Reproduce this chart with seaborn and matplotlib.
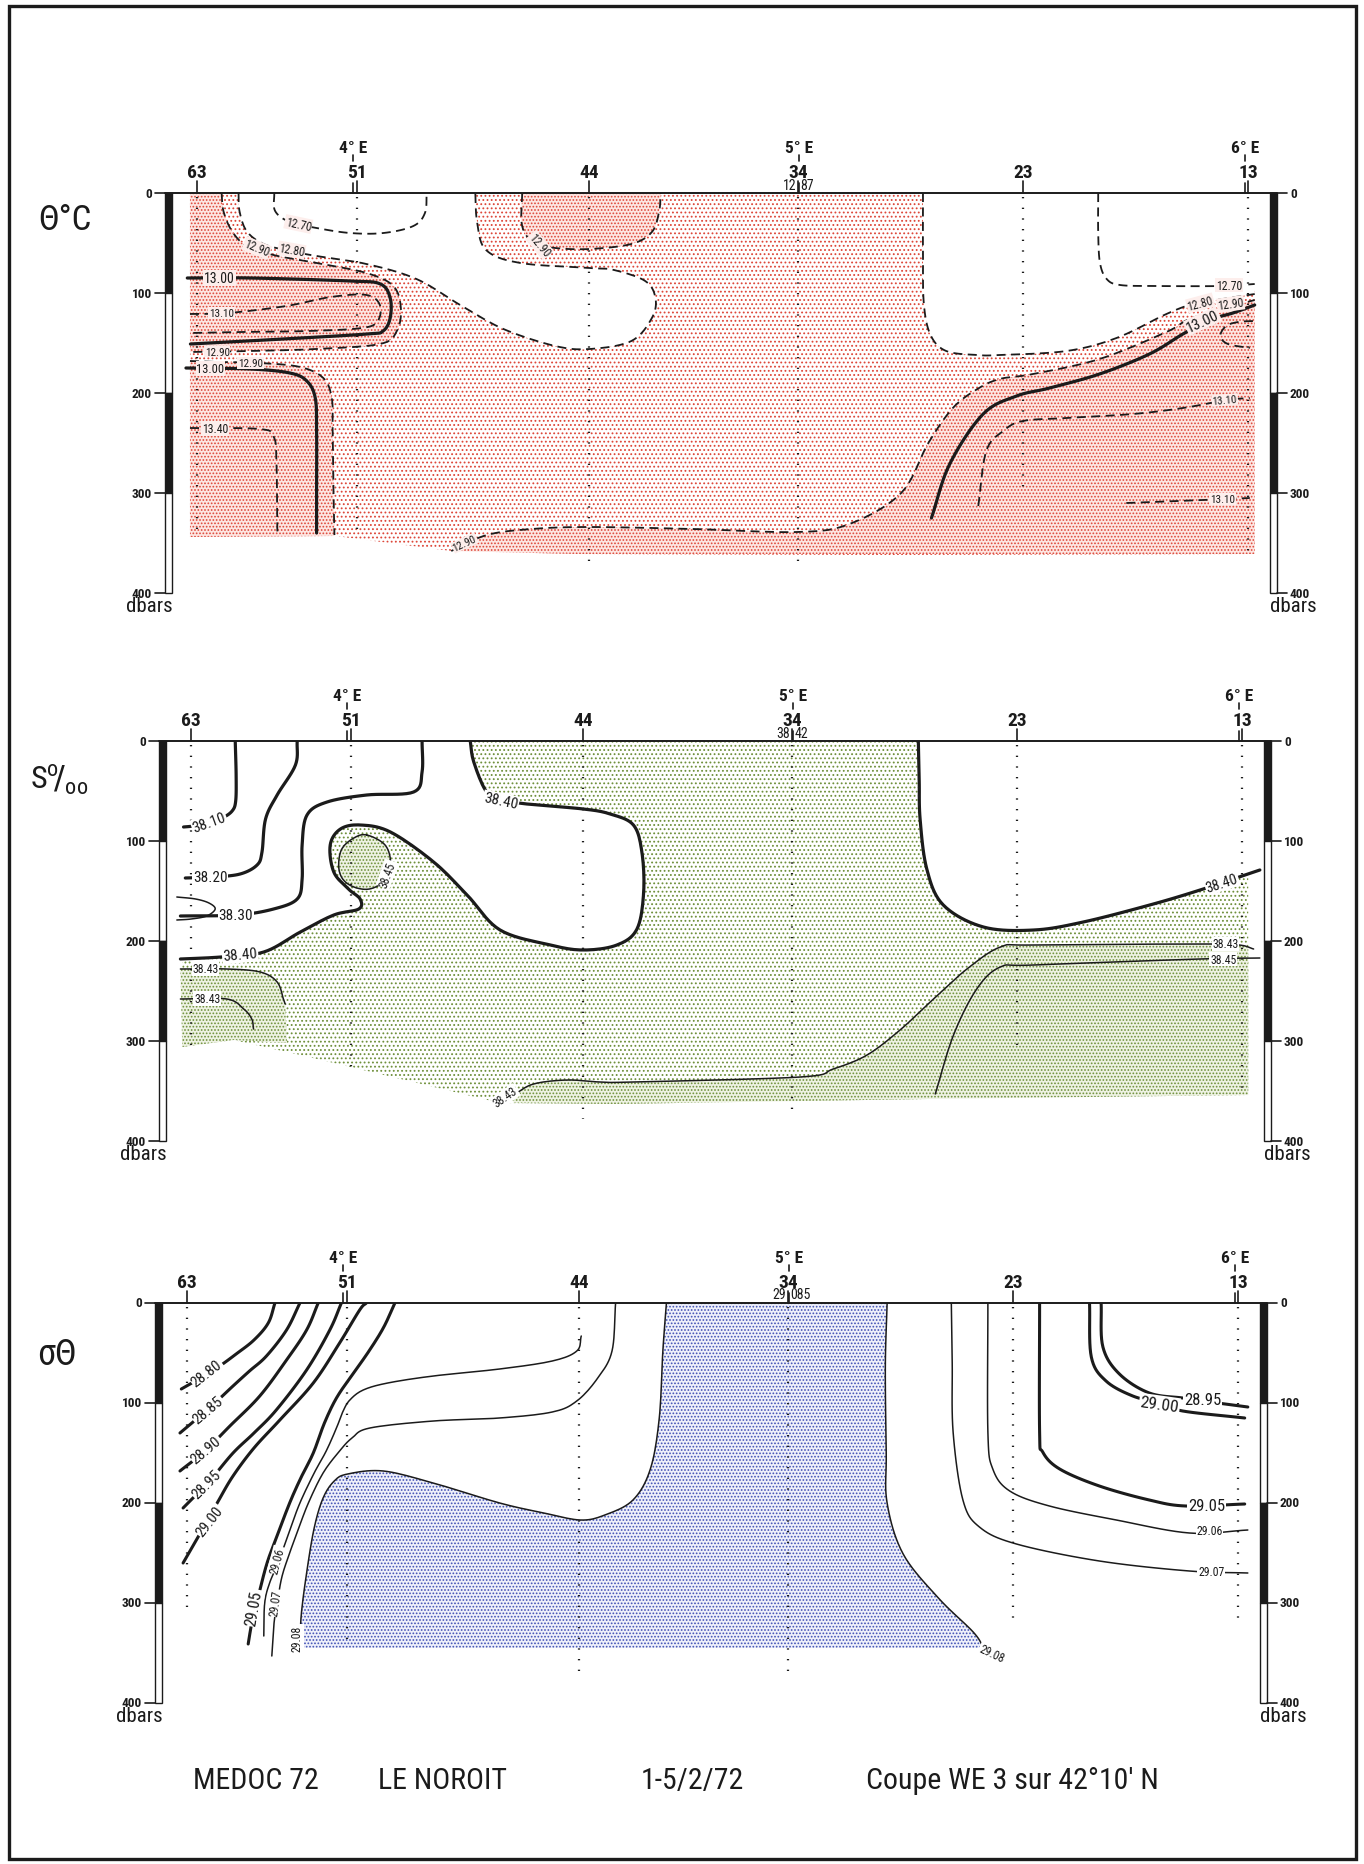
import numpy as np
import matplotlib
matplotlib.use("Agg")
import matplotlib.pyplot as plt
import seaborn as sns
from matplotlib import font_manager
from matplotlib.patches import Rectangle

# ------------------------------------------------------------------ data
STATIONS = ["63", "51", "44", "34", "23", "13"]
STATION_LON = [3.650, 4.009, 4.529, 4.998, 5.502, 6.007]
LON_TICKS = [4.0, 5.0, 6.0]
LON_LABELS = ["4° E", "5° E", "6° E"]
DEPTH_TICKS = [0, 100, 200, 300, 400]
BOTTOM_T = [345, 345, 374, 372, 302, 360]
BOTTOM_S = [305, 330, 378, 376, 305, 355]
BOTTOM_D = [305, 343, 373, 375, 316, 316]
SURF_34_T = ("12", "87")
SURF_34_S = ("38", "42")
SURF_34_D = ("29", "085")

# potential temperature isotherms (lon, dbar)
T_DOMAIN = [(3.634, 0), (6.022, 0), (6.022, 361), (5.2, 362), (4.5, 361), (4.22, 358), (3.96, 343), (3.634, 344)]
T1270_L = [(3.823, 0), (3.825, 18), (3.858, 29), (3.918, 35), (3.993, 40), (4.068, 40), (4.135, 33), (4.161, 20), (4.165, 0)]
T1270_R = [(5.671, 0), (5.671, 40), (5.675, 70), (5.69, 86), (5.72, 92), (5.80, 93), (5.95, 93), (6.022, 91)]
T1280_L = [(3.743, 0), (3.745, 18), (3.761, 38), (3.799, 51), (3.858, 58), (3.918, 63), (4.03, 71), (4.142, 86), (4.24, 112),
           (4.337, 136), (4.453, 153), (4.531, 156), (4.624, 148), (4.670, 125), (4.678, 105), (4.655, 88), (4.585, 77),
           (4.531, 75), (4.375, 70), (4.298, 57), (4.278, 29), (4.274, 0)]
T1280_R = [(5.278, 0), (5.278, 60), (5.28, 111), (5.295, 142), (5.33, 158), (5.40, 162), (5.45, 162), (5.60, 158),
           (5.712, 145), (5.824, 121), (5.884, 111), (5.95, 106), (6.022, 101)]
T1290_U = [(3.705, 0), (3.709, 18), (3.728, 38), (3.761, 53), (3.821, 62), (3.918, 70), (4.03, 80), (4.09, 93), (4.107, 115),
           (4.098, 138), (4.06, 151), (3.918, 156), (3.769, 158), (3.634, 159)]
T1290_44 = [(4.379, 0), (4.379, 33), (4.406, 50), (4.453, 55), (4.531, 56), (4.624, 51), (4.67, 39), (4.686, 19), (4.69, 0)]
T1290_BL = [(3.634, 168), (3.70, 169), (3.791, 170), (3.881, 174), (3.933, 185), (3.952, 205), (3.954, 238), (3.956, 300), (3.958, 342)]
T1290_B = [(4.22, 358), (4.30, 342), (4.40, 336), (4.531, 334), (4.763, 336), (4.996, 339), (5.113, 331), (5.229, 300),
           (5.29, 250), (5.345, 215), (5.40, 196), (5.45, 186), (5.525, 181), (5.674, 166), (5.824, 139), (5.876, 126),
           (5.973, 113), (6.022, 107)]
T1300_T = [(3.628, 85), (3.769, 85), (3.993, 88), (4.061, 91), (4.083, 105), (4.083, 125), (4.067, 138), (4.031, 141),
           (3.843, 146), (3.635, 151)]
T1300_BL = [(3.625, 175), (3.769, 176), (3.858, 180), (3.896, 188), (3.915, 205), (3.918, 238), (3.918, 300), (3.918, 340)]
T1300_R = [(5.297, 325), (5.338, 271), (5.413, 221), (5.488, 203), (5.562, 195), (5.674, 181), (5.786, 161), (5.861, 141),
           (5.92, 127), (5.973, 120), (6.022, 112)]
T1310_T = [(3.634, 121), (3.72, 120), (3.85, 113), (3.95, 104), (4.03, 102), (4.06, 112), (4.055, 128), (4.02, 135),
           (3.90, 138), (3.75, 139), (3.634, 140)]
T1310_R = [(5.402, 313), (5.42, 258), (5.458, 238), (5.502, 228), (5.60, 225), (5.749, 221), (5.861, 215), (5.96, 207), (6.011, 205)]
T1310_R2 = [(5.734, 310), (5.85, 308), (5.96, 306), (6.011, 305)]
T1310_LOOP = [(6.018, 128), (5.985, 129), (5.958, 133), (5.945, 143), (5.962, 151), (6.011, 155)]
T1340 = [(3.634, 235), (3.79, 236), (3.822, 244), (3.828, 270), (3.83, 340)]
T_LABELS = [("12.70", 3.877, 31, -12, 8.5), ("12.80", 3.862, 57, -10, 8.5), ("12.90", 3.784, 55, -22, 8.5),
            ("12.90", 4.418, 52, -50, 8.5), ("13.00", 3.70, 85, 0, 10), ("13.10", 3.705, 120, 0, 8),
            ("12.90", 3.695, 158.5, 0, 8), ("13.00", 3.68, 175.5, 0, 9), ("12.90", 3.77, 170, 0, 8),
            ("13.40", 3.69, 235.5, 0, 8.5), ("12.90", 4.25, 350, 25, 8), ("12.70", 5.965, 92, 0, 8.5),
            ("12.80", 5.90, 110, 15, 8.5), ("12.90", 5.968, 111, 8, 8.5), ("13.00", 5.905, 128, 25, 11),
            ("13.10", 5.955, 207, 5, 8), ("13.10", 5.95, 306, 0, 8)]

# salinity isohalines
S_DOMAIN = [(3.63, 0), (6.021, 0), (6.021, 354), (5.3, 358), (4.6, 363), (4.343, 362), (4.12, 338), (3.895, 314),
            (3.745, 299), (3.63, 306)]
S3810 = [(3.749, 0), (3.751, 35), (3.750, 60), (3.742, 70), (3.72, 77), (3.69, 82), (3.655, 85), (3.633, 86)]
S3820 = [(3.888, 0), (3.884, 24), (3.843, 54), (3.817, 78), (3.809, 111), (3.798, 124), (3.76, 133), (3.70, 136), (3.637, 137)]
S3830 = [(4.168, 0), (4.168, 31), (4.149, 51), (4.044, 54), (3.955, 61), (3.910, 74), (3.899, 104), (3.899, 138),
         (3.888, 158), (3.835, 168), (3.753, 174), (3.626, 175)]
S_LOOP = [(3.618, 156), (3.66, 158), (3.69, 162), (3.704, 168), (3.685, 175), (3.65, 178), (3.618, 179)]
S3840_L = [(3.626, 218), (3.716, 216), (3.813, 211), (3.895, 191), (3.970, 174), (4.026, 168), (4.029, 158), (4.003, 148),
           (3.970, 131), (3.962, 104), (3.985, 88), (4.030, 84), (4.097, 91), (4.194, 121), (4.269, 154), (4.343, 189),
           (4.456, 204), (4.53, 209), (4.605, 204), (4.65, 188), (4.665, 151), (4.661, 111), (4.642, 84), (4.59, 73),
           (4.53, 68), (4.403, 63), (4.35, 59), (4.313, 51), (4.284, 21), (4.276, 0)]
S3840_R = [(5.281, 0), (5.283, 40), (5.285, 78), (5.30, 128), (5.337, 164), (5.427, 186), (5.54, 189), (5.651, 181),
           (5.8, 164), (5.913, 149), (6.047, 129)]
S3845_LOOP = [(4.044, 94), (4.015, 97), (3.988, 108), (3.981, 125), (3.99, 138), (4.015, 146), (4.05, 148), (4.082, 140),
              (4.097, 122), (4.085, 104), (4.044, 94)]
S3843_A = [(3.626, 228), (3.73, 228), (3.805, 231), (3.843, 241), (3.857, 258), (3.861, 263)]
S3843_B = [(3.626, 258), (3.73, 258), (3.768, 268), (3.786, 278), (3.79, 288)]
S3843_BOT = [(4.373, 354), (4.418, 343), (4.493, 339), (4.567, 341), (4.642, 341), (5.016, 336), (5.09, 328), (5.166, 314),
             (5.24, 289), (5.315, 258), (5.39, 228), (5.465, 206), (5.54, 204), (5.913, 203), (6.0, 204), (6.033, 208)]
S3845_R = [(5.319, 353), (5.36, 294), (5.412, 248), (5.465, 226), (5.54, 224), (5.913, 218), (6.047, 217)]
S_LABELS = [("38.10", 3.69, 81, 20, 11), ("38.20", 3.693, 136, 0, 11), ("38.30", 3.75, 174, 0, 11),
            ("38.40", 3.76, 214, 5, 11), ("38.40", 4.345, 60, -12, 11), ("38.45", 4.09, 133, 70, 8.5),
            ("38.43", 3.682, 227.5, 0, 8.5), ("38.43", 3.686, 257.5, 0, 8.5), ("38.43", 4.355, 356, 35, 8.5),
            ("38.43", 5.97, 203, 0, 8.5), ("38.45", 5.965, 218, 0, 8.5), ("38.40", 5.962, 142, 18, 10.5)]

# potential density isopycnals
D2880 = [(3.847, 0), (3.832, 20), (3.80, 37), (3.76, 51), (3.72, 64), (3.68, 75), (3.637, 86)]
D2885 = [(3.903, 0), (3.873, 27), (3.828, 53), (3.79, 68), (3.753, 83), (3.70, 105), (3.634, 130)]
D2890 = [(3.944, 0), (3.918, 27), (3.873, 57), (3.813, 93), (3.746, 123), (3.69, 148), (3.634, 168)]
D2895 = [(3.996, 0), (3.970, 27), (3.918, 67), (3.85, 107), (3.80, 130), (3.753, 150), (3.70, 178), (3.641, 205)]
D2900 = [(4.052, 0), (4.037, 7), (3.992, 40), (3.933, 80), (3.858, 117), (3.80, 145), (3.753, 173), (3.72, 198),
         (3.69, 222), (3.641, 260)]
D2905 = [(4.116, 0), (4.09, 25), (4.055, 50), (4.02, 72), (3.985, 95), (3.958, 120), (3.933, 150), (3.905, 175),
         (3.88, 200), (3.85, 235), (3.828, 262), (3.806, 300), (3.795, 320), (3.787, 341)]
D2906 = [(3.822, 333), (3.824, 300), (3.835, 280), (3.854, 260), (3.878, 230), (3.903, 200), (3.935, 170), (3.962, 148),
         (3.985, 125), (4.0, 108), (4.015, 97), (4.045, 87), (4.10, 80), (4.202, 73), (4.351, 66), (4.469, 58),
         (4.524, 48), (4.534, 33)]
D2907 = [(3.84, 353), (3.845, 320), (3.852, 300), (3.862, 275), (3.876, 255), (3.898, 228), (3.922, 200), (3.955, 170),
         (3.992, 148), (4.02, 135), (4.06, 125), (4.202, 118), (4.351, 115), (4.469, 109), (4.524, 98), (4.571, 75),
         (4.603, 48), (4.611, 0)]
D2908_L = [(3.903, 345), (3.906, 312), (3.918, 270), (3.935, 225), (3.955, 195), (3.98, 178), (4.01, 171), (4.09, 168),
           (4.202, 180), (4.351, 200), (4.45, 210), (4.532, 217), (4.587, 212), (4.65, 197), (4.689, 166), (4.709, 115),
           (4.717, 48), (4.725, 0)]
D2908_R = [(5.22, 0), (5.216, 64), (5.218, 150), (5.22, 200), (5.256, 251), (5.335, 295), (5.413, 329), (5.437, 345)]
D2907_R = [(5.364, 0), (5.366, 60), (5.368, 129), (5.39, 197), (5.427, 224), (5.51, 241), (5.696, 258), (5.898, 268), (6.029, 270)]
D2906_R = [(5.446, 0), (5.446, 129), (5.457, 166), (5.495, 188), (5.584, 203), (5.734, 217), (5.898, 230), (6.029, 227)]
D2905_R = [(5.562, 0), (5.562, 129), (5.569, 149), (5.607, 166), (5.696, 183), (5.808, 197), (5.89, 203), (6.022, 201)]
D2900_R = [(5.674, 0), (5.678, 54), (5.711, 78), (5.771, 93), (5.831, 100), (5.883, 108), (6.022, 115)]
D2895_R = [(5.70, 0), (5.704, 44), (5.741, 71), (5.808, 90), (5.883, 95), (5.928, 98), (6.029, 104)]
D_LABELS = [("28.80", 3.694, 70, 38, 11), ("28.85", 3.697, 107, 40, 11), ("28.90", 3.693, 147, 40, 11),
            ("28.95", 3.693, 181, 45, 11), ("29.00", 3.70, 218, 52, 11), ("29.05", 3.800, 305, 80, 11.5),
            ("29.06", 3.852, 257, 75, 8.5), ("29.07", 3.848, 300, 82, 8.5), ("29.08", 3.897, 335, 90, 8.5),
            ("29.08", 5.455, 350, -25, 8.5), ("28.95", 5.928, 97, 0, 12), ("29.00", 5.831, 101, -8, 12.5),
            ("29.05", 5.936, 203, 0, 12), ("29.06", 5.943, 228, 0, 8.5), ("29.07", 5.947, 269, 0, 8.5)]

TITLE_PARTS = ["MEDOC 72", "LE NOROIT", "1-5/2/72", "Coupe WE 3 sur 42°10′ N"]

# ------------------------------------------------------------------ style
W, H, DPI = 1364, 1865, 100
XLIM = (3.578, 6.072)
AXW = 1112
PX = (XLIM[1] - XLIM[0]) / AXW
INK = "#1b1b1b"

sns.set_theme(style="white")

fm = font_manager.fontManager
names = {f.name for f in fm.ttflist}
NARROW, STRETCH = None, "normal"
for cand in ["Liberation Sans Narrow", "Roboto Condensed", "Open Sans Condensed", "Noto Sans Condensed",
             "DejaVu Sans Condensed", "Arial Narrow", "Nimbus Sans Narrow", "Inter Condensed"]:
    if cand in names:
        NARROW = cand
        break
if NARROW is None:
    for fam in ["Roboto", "Noto Sans", "Open Sans", "DejaVu Sans", "Inter", "Lato"]:
        if any(f.name == fam and str(f.stretch) in ("condensed", "semi-condensed", "extra-condensed", "ultra-condensed")
               for f in fm.ttflist):
            NARROW, STRETCH = fam, "condensed"
            break
SF = 1.0
if NARROW is None:
    NARROW, SF = "DejaVu Sans", 0.86
plt.rcParams["font.family"] = [NARROW, "DejaVu Sans"]
plt.rcParams["font.stretch"] = STRETCH
plt.rcParams["hatch.linewidth"] = 0.8

fig = plt.figure(figsize=(W / DPI, H / DPI), dpi=DPI)
fig.patch.set_facecolor("white")


def smooth(pts, n=10):
    p = np.asarray(pts, dtype=float)
    if len(p) < 3:
        return p
    if np.allclose(p[0], p[-1]):
        P = np.vstack([p[-2], p, p[1]])
    else:
        P = np.vstack([2 * p[0] - p[1], p, 2 * p[-1] - p[-2]])
    t = np.linspace(0, 1, n, endpoint=False)[:, None]
    segs = []
    for i in range(1, len(P) - 2):
        p0, p1, p2, p3 = P[i - 1], P[i], P[i + 1], P[i + 2]
        segs.append(0.5 * (2 * p1 + (-p0 + p2) * t + (2 * p0 - 5 * p1 + 4 * p2 - p3) * t ** 2
                           + (-p0 + 3 * p1 - 3 * p2 + p3) * t ** 3))
    segs.append(p[-1:])
    return np.vstack(segs)


def region(path, corners=(), xmax=None):
    a = smooth(path)
    if xmax is not None:
        a[:, 0] = np.minimum(a[:, 0], xmax)
    if len(corners):
        a = np.vstack([a, np.asarray(corners, float)])
    return a


def fill(ax, poly, face, dots=None, hatch=None, z=1):
    poly = np.asarray(poly, float)
    ax.fill(poly[:, 0], poly[:, 1], facecolor=face, edgecolor=dots if dots else face,
            linewidth=0, hatch=hatch, zorder=z)


def iso(ax, pts, lw=1.1, ls="-"):
    s = smooth(pts)
    sns.lineplot(x=s[:, 0], y=s[:, 1], sort=False, estimator=None, ax=ax, color=INK,
                 linewidth=lw, linestyle=ls, zorder=5)


def labels(ax, items, bg="white"):
    for txt, x, y, rot, size in items:
        ax.text(x, y, txt, rotation=rot, rotation_mode="anchor", ha="center", va="center",
                fontsize=size * SF, color=INK, zorder=8,
                bbox=dict(boxstyle="square,pad=0.06", fc=bg, ec="none"))


def make_ax(left_px, top_px, h_px):
    ax = fig.add_axes([left_px / W, 1 - (top_px + h_px) / H, AXW / W, h_px / H])
    ax.set_xlim(*XLIM)
    ax.set_ylim(400, 0)
    ax.axis("off")
    return ax


def decorate(ax, bottoms, surf34, ylabel, ylab_d, ylab_x, ylab_size):
    x0, x1 = XLIM
    bw = 7 * PX
    for i, (a, b) in enumerate([(0, 100), (100, 200), (200, 300), (300, 400)]):
        fc = INK if i % 2 == 0 else "white"
        for bx in (x0, x1 - bw):
            ax.add_patch(Rectangle((bx, a), bw, b - a, facecolor=fc, edgecolor=INK, lw=1.0,
                                   clip_on=False, zorder=6))
    for d in DEPTH_TICKS:
        ax.plot([x0 - 10 * PX, x0], [d, d], color=INK, lw=1.2, clip_on=False, zorder=6)
        ax.plot([x1, x1 + 10 * PX], [d, d], color=INK, lw=1.2, clip_on=False, zorder=6)
        ax.text(x0 - 13 * PX, d, str(d), ha="right", va="center", fontsize=9.5 * SF,
                fontweight="bold", color=INK)
        ax.text(x1 + 13 * PX, d, str(d), ha="left", va="center", fontsize=9.5 * SF,
                fontweight="bold", color=INK)
    ax.text(x0 + 8 * PX, 403, "dbars", ha="right", va="top", fontsize=15 * SF, color=INK)
    ax.text(x1 - 7 * PX, 403, "dbars", ha="left", va="top", fontsize=15 * SF, color=INK)
    ax.plot([x0, x1], [0, 0], color=INK, lw=1.4, clip_on=False, zorder=7)
    for name, lon, bot in zip(STATIONS, STATION_LON, bottoms):
        ax.plot([lon, lon], [0, -12], color=INK, lw=1.2, clip_on=False, zorder=7)
        ax.text(lon, -16, name, ha="center", va="baseline", fontsize=14 * SF,
                fontweight="bold", color=INK)
        ax.plot([lon, lon], [4, bot], color=INK, lw=1.6, ls=(0, (0.6, 4.2)), zorder=4)
    for lon, lab in zip(LON_TICKS, LON_LABELS):
        ax.plot([lon, lon], [0, -10], color=INK, lw=1.2, clip_on=False, zorder=7)
        ax.plot([lon, lon], [-32, -38], color=INK, lw=1.2, clip_on=False, zorder=7)
        ax.text(lon, -41, lab, ha="center", va="baseline", fontsize=12.5 * SF,
                fontweight="bold", color=INK)
    lon34 = STATION_LON[3]
    ax.text(lon34 - 2 * PX, -1.5, surf34[0], ha="right", va="bottom", fontsize=10 * SF, color=INK)
    ax.text(lon34 + 2 * PX, -1.5, surf34[1], ha="left", va="bottom", fontsize=10 * SF, color=INK)
    ax.text(ylab_x, ylab_d, ylabel, ha="center", va="center", fontsize=ylab_size, color=INK,
            clip_on=False)


# ------------------------------------------------------------------ panel 1 : theta
RED = "#dd4638"
ax1 = make_ax(165, 194, 400)
fill(ax1, T_DOMAIN, "white", RED, "....", 1)
fill(ax1, region(T1280_L), "white", None, None, 1.5)
fill(ax1, region(T1280_R, [(6.03, 0)]), "white", None, None, 1.5)
for poly in (region(T1290_U, [(3.634, 0)]),
             region(T1290_BL, [(3.958, 343), (3.634, 344)]),
             region(T1290_44),
             region(T1290_B, [(6.022, 361), (4.5, 361)])):
    fill(ax1, poly, "#fde6e2", RED, ".....", 2)
DASH = (0, (5, 3))
for line in (T1270_L, T1270_R, T1280_L, T1280_R, T1290_U, T1290_44, T1290_BL, T1290_B,
             T1310_T, T1310_R, T1310_R2, T1310_LOOP, T1340):
    iso(ax1, line, lw=1.3, ls=DASH)
for line in (T1300_T, T1300_BL, T1300_R):
    iso(ax1, line, lw=2.3)
labels(ax1, T_LABELS, bg="#fdeeec")
decorate(ax1, BOTTOM_T, SURF_34_T, "Θ°C", 26, XLIM[0] - 100 * PX, 25)

# ------------------------------------------------------------------ panel 2 : salinity
GREEN = "#6e8f3a"
ax2 = make_ax(159, 742, 400)
fill(ax2, S_DOMAIN, "white", GREEN, "....", 1)
fill(ax2, region(S3840_L, [(3.62, 0)]), "white", None, None, 1.5)
fill(ax2, region(S3840_R, [(6.05, 0)]), "white", None, None, 1.5)
for poly in (region(S3843_A, [(3.865, 302), (3.745, 299), (3.63, 306)]),
             region(S3843_BOT, [(6.021, 354), (5.3, 358), (4.6, 363), (4.373, 362)], xmax=6.021),
             region(S3845_LOOP)):
    fill(ax2, poly, "#eef2e3", GREEN, ".....", 2)
for line in (S3810, S3820, S3830, S3840_L, S3840_R):
    iso(ax2, line, lw=2.3)
for line in (S3843_A, S3843_B, S3843_BOT, S3845_R, S3845_LOOP, S_LOOP):
    iso(ax2, line, lw=1.1)
labels(ax2, S_LABELS)
decorate(ax2, BOTTOM_S, SURF_34_S, r"S$^{\mathregular{o}}\!/_{\mathregular{oo}}$", 38,
         XLIM[0] - 100 * PX, 23)

# ------------------------------------------------------------------ panel 3 : sigma-theta
BLUE = "#3f4fb4"
ax3 = make_ax(155, 1304, 400)
fill(ax3, np.vstack([region(D2908_L), region(D2908_R), [(5.437, 345), (3.903, 345)]]),
     "#eef0fa", BLUE, ".....", 1)
for line in (D2880, D2885, D2890, D2895, D2900, D2905, D2905_R, D2900_R, D2895_R):
    iso(ax3, line, lw=2.2)
for line in (D2906, D2907, D2908_L, D2908_R, D2906_R, D2907_R):
    iso(ax3, line, lw=1.1)
labels(ax3, D_LABELS)
decorate(ax3, BOTTOM_D, SURF_34_D, "σΘ", 51, XLIM[0] - 98 * PX, 26)

# ------------------------------------------------------------------ title & frame
TITLE_X = [193, 378, 641, 866]
for txt, xp in zip(TITLE_PARTS, TITLE_X):
    fig.text(xp / W, 1 - 1781 / H, txt, ha="left", va="center", fontsize=21.5 * SF, color=INK)
fig.add_artist(Rectangle((9 / W, 1 - 1860 / H), (1356 - 9) / W, (1860 - 7) / H,
                         transform=fig.transFigure, fill=False, lw=2.4, edgecolor=INK))

fig.savefig("out.png", dpi=DPI, facecolor="white")
